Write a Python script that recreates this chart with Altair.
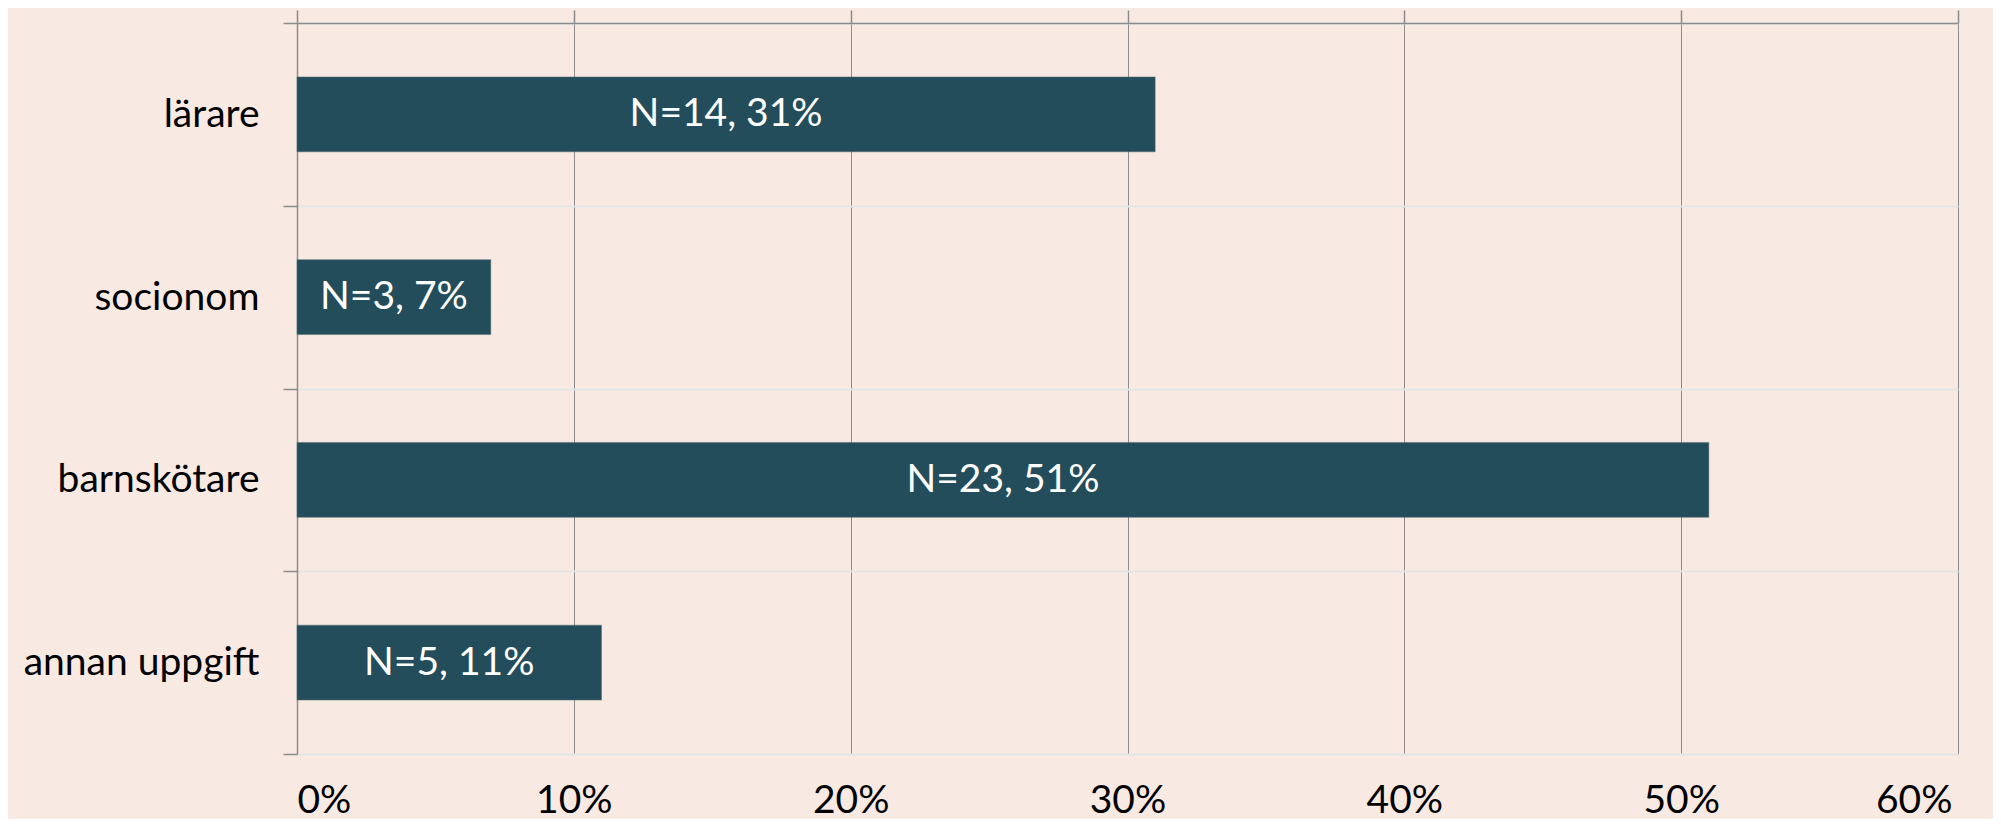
import altair as alt
import pandas as pd

categories = ["lärare", "socionom", "barnskötare", "annan uppgift"]
percent = [31, 7, 51, 11]
counts = [14, 3, 23, 5]
x_ticks = [0, 10, 20, 30, 40, 50, 60]

df = pd.DataFrame({"cat": categories, "pct": percent, "n": counts})
df["label"] = ["N=%d, %d%%" % (n, p) for n, p in zip(counts, percent)]
df["mid"] = df["pct"] / 2

FONT = "Lato"
FS = 39
BG = "#F8EAE2"
BAR = "#234D5B"
GRID_DARK = "#8C8C8C"
GRID_LIGHT = "#E4E4E4"

x_scale = alt.Scale(domain=[0, 60], nice=False, zero=True)
y_scale = alt.Scale(domain=categories, paddingInner=0, paddingOuter=0)

y_axis = alt.Axis(
    title=None, domain=True, domainColor=GRID_DARK, domainWidth=1.5,
    ticks=True, tickBand="extent", tickColor=GRID_DARK, tickSize=14, tickWidth=1.5,
    grid=True, gridColor=GRID_LIGHT, gridWidth=2,
    labelFont=FONT, labelFontSize=FS, labelColor="#000000", labelPadding=24,
    labelLimit=600,
)
top_axis = alt.Axis(
    orient="top", title=None, values=x_ticks, labels=False,
    domain=True, domainColor=GRID_DARK, domainWidth=1.5,
    ticks=True, tickColor=GRID_DARK, tickSize=13, tickWidth=1.5,
    grid=True, gridColor=GRID_DARK, gridWidth=1,
)
bottom_axis = alt.Axis(
    orient="bottom", title=None, values=x_ticks, domain=False, ticks=False, grid=False,
    labelFont=FONT, labelFontSize=FS, labelColor="#000000", labelPadding=27,
    labelExpr="datum.value + '%'",
    labelOffset=alt.condition("datum.value == 60", alt.value(-6), alt.value(0)),
)

bars = alt.Chart(df).mark_bar(
    color=BAR, stroke="#5a6e74", strokeWidth=0.5,
    height=alt.RelativeBandSize(band=0.41),
).encode(
    x=alt.X("pct:Q", scale=x_scale, axis=top_axis),
    y=alt.Y("cat:N", scale=y_scale, sort=categories, axis=y_axis),
)

text = alt.Chart(df).mark_text(
    color="white", font=FONT, fontSize=FS, align="center", baseline="middle"
).encode(
    x=alt.X("mid:Q", scale=x_scale, axis=bottom_axis),
    y=alt.Y("cat:N", scale=y_scale, sort=categories, axis=y_axis),
    text="label:N",
)

chart = (
    alt.layer(bars, text)
    .resolve_axis(x="independent")
    .properties(
        width=1661, height=731,
        autosize=alt.AutoSizeParams(type="none"),
        padding={"left": 289, "top": 15, "right": 35, "bottom": 65},
    )
    .configure(background=BG)
    .configure_view(stroke=None)
)

chart.save("out.html", embed_options={"renderer": "svg", "actions": False})
